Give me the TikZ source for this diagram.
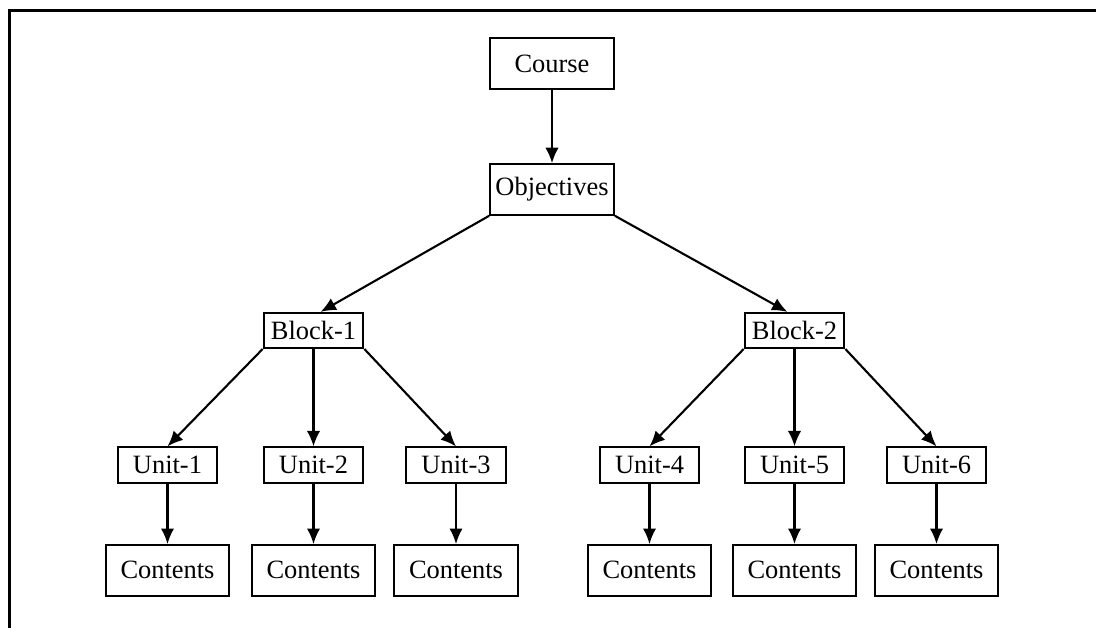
\documentclass[tikz,border=0pt]{standalone}
\usepackage{fontspec}
\setmainfont{Liberation Serif}
\usetikzlibrary{arrows.meta}
\tikzstyle{box} = [draw, line width=1.4pt, inner sep=0pt, font=\fontsize{18.8}{22}\selectfont]
\tikzstyle{bigbox} = [box, minimum width=88pt, minimum height=36pt]
\tikzstyle{smallbox} = [box, minimum width=71pt, minimum height=25pt]
\tikzstyle{arrow} = [line width=1.5pt, ->, >={Latex[length=11pt,width=9.5pt]}]

\begin{document}
\begin{tikzpicture}[x=0.025cm, y=-0.025cm]
  \useasboundingbox (0,0) rectangle (1096,628);
  % FRAME
  \draw[line width=2pt] (9.5,628) -- (9.5,10.5) -- (1096,10.5);

  % TOP
  \node[bigbox] (course) at (552,63.5) {Course};
  \node[bigbox] (obj) at (552,189.5) {Objectives};

  % BLOCKS
  \node[smallbox] (b1) at (313.5,330.5) {Block-1};
  \node[smallbox] (b2) at (794.5,330.5) {Block-2};

  % UNITS
  \node[smallbox] (u1) at (167.5,465) {Unit-1};
  \node[smallbox] (u2) at (313.5,465) {Unit-2};
  \node[smallbox] (u3) at (456,465) {Unit-3};
  \node[smallbox] (u4) at (649.5,465) {Unit-4};
  \node[smallbox] (u5) at (794.5,465) {Unit-5};
  \node[smallbox] (u6) at (936.5,465) {Unit-6};

  % CONTENTS
  \foreach \i in {1,...,6}
    \node[bigbox, anchor=north] (c\i) at ([yshift=-43pt]u\i.south) {Contents};

  % ARROWS
  \draw[arrow] (course) -- (obj);
  \draw[arrow] (obj.south west) -- ([xshift=5pt]b1.north);
  \draw[arrow] (obj.south east) -- ([xshift=-5pt]b2.north);
  \draw[arrow] (b1.south west) -- (u1.north);
  \draw[arrow] (b1) -- (u2);
  \draw[arrow] (b1.south east) -- (u3.north);
  \draw[arrow] (b2.south west) -- (u4.north);
  \draw[arrow] (b2) -- (u5);
  \draw[arrow] (b2.south east) -- (u6.north);
  \foreach \i in {1,...,6}
    \draw[arrow] (u\i) -- (c\i);
\end{tikzpicture}
\end{document}
